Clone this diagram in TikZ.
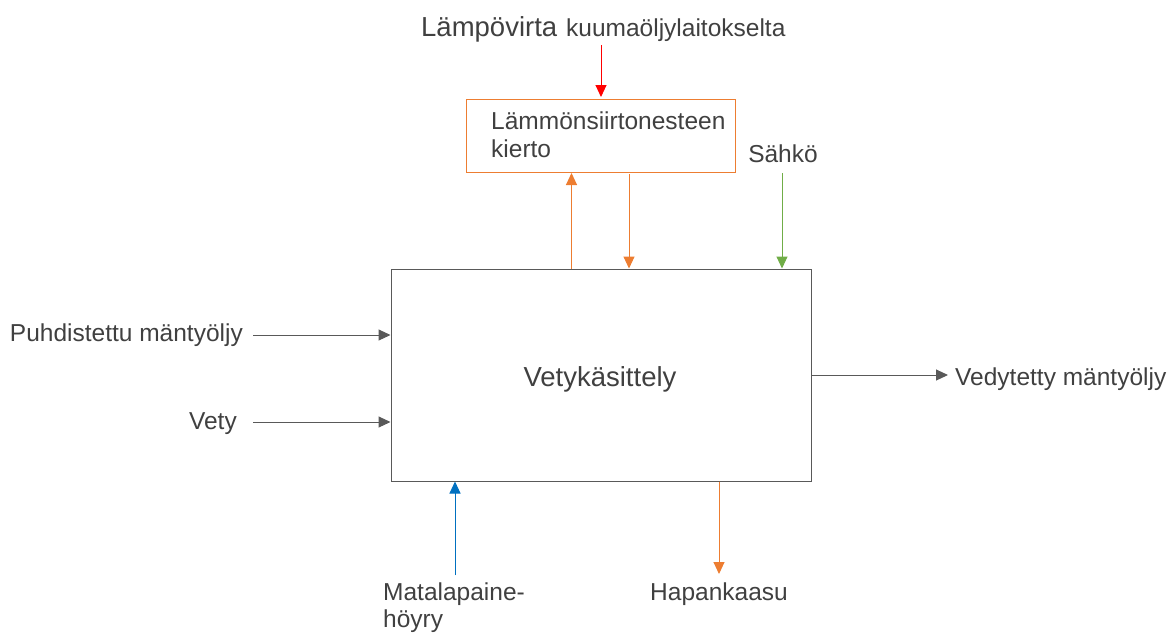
\documentclass[tikz,border=0pt]{standalone}
\usepackage{fontspec}
\setmainfont{Liberation Sans}
\usetikzlibrary{arrows.meta}
\definecolor{txt}{HTML}{404040}
\definecolor{ln}{HTML}{595959}
\definecolor{heat}{HTML}{ED7D31}
\definecolor{hot}{HTML}{FF0000}
\definecolor{elec}{HTML}{70AD47}
\definecolor{steam}{HTML}{0070C0}
\tikzset{
  lbl/.style={inner sep=0pt, text=txt, font=\fontsize{24.5}{28}\selectfont},
  big/.style={inner sep=0pt, text=txt, font=\fontsize{27.5}{31}\selectfont},
  flow/.style={line width=1pt, -{Triangle[length=12pt,width=11pt]}},
}
\begin{document}
\begin{tikzpicture}[x=1pt,y=-1pt]
\useasboundingbox (0,0) rectangle (1170,633);

% process blocks
\node[draw=ln, line width=1pt, minimum width=420pt, minimum height=212pt, inner sep=0pt] (main) at (601,375) {};
\node[big, anchor=base] (maintxt) at (600,386) {Vetykäsittely};
\node[draw=heat, line width=1pt, minimum width=269pt, minimum height=73pt, inner sep=0pt] (loop) at (600.5,136) {};
\node[lbl, anchor=base west, align=left, font=\fontsize{24.5}{27.5}\selectfont] (looptxt) at (491,157) {Lämmönsiirtonesteen\\kierto};

% labels
\node[big, anchor=base west] (heatsrc) at (421,36) {Lämpövirta};
\node[lbl, anchor=base west] (heatsrc2) at (566,36) {kuumaöljylaitokselta};
\node[lbl, anchor=base] (el) at (783,162) {Sähkö};
\node[lbl, anchor=base east] (feed) at (243,341) {Puhdistettu mäntyöljy};
\node[lbl, anchor=base east] (h2) at (237,429) {Vety};
\node[lbl, anchor=base west] (prod) at (955,385) {Vedytetty mäntyöljy};
\node[lbl, anchor=base west, align=left, font=\fontsize{24.5}{27}\selectfont] (lps) at (383,627) {Matalapaine-\\höyry};
\node[lbl, anchor=base] (gas) at (719,600) {Hapankaasu};

% free ends of the connectors
\coordinate (hotA) at (601,45);
\coordinate (elA) at (782,173);
\coordinate (feedA) at (253,335);
\coordinate (h2A) at (253,422);
\coordinate (prodB) at (948,375);
\coordinate (lpsA) at (455,575);
\coordinate (gasB) at (719,574);

% connectors
\draw[flow, draw=hot, fill=hot] (hotA) -- ([yshift=2pt]hotA |- loop.north);
\draw[flow, draw=heat, fill=heat] (main.north -| 571.5,0) -- (loop.south -| 571.5,0);
\draw[flow, draw=heat, fill=heat] (629,174) -- (main.north -| 629,0);
\draw[flow, draw=elec, fill=elec] (elA) -- (elA |- main.north);
\draw[flow, draw=ln, fill=ln] (feedA) -- (feedA -| main.west);
\draw[flow, draw=ln, fill=ln] (h2A) -- (h2A -| main.west);
\draw[flow, draw=ln, fill=ln] (prodB -| main.east) -- (prodB);
\draw[flow, draw=steam, fill=steam] (lpsA) -- (lpsA |- main.south);
\draw[flow, draw=heat, fill=heat] (gasB |- main.south) -- (gasB);
\end{tikzpicture}
\end{document}
